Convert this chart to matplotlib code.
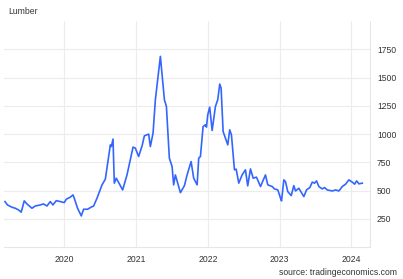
import matplotlib
matplotlib.use("Agg")
from matplotlib import pyplot as plt

# weekly lumber price (decimal year, USD)
years = [2019.173, 2019.209, 2019.271, 2019.317, 2019.363, 2019.400, 2019.442,
         2019.480, 2019.550, 2019.596, 2019.665, 2019.711, 2019.759, 2019.805,
         2019.842, 2019.888, 2019.944, 2020.000, 2020.028, 2020.084, 2020.121,
         2020.139, 2020.185, 2020.237, 2020.269, 2020.325, 2020.372, 2020.409,
         2020.456, 2020.526, 2020.572, 2020.642,
         2020.656, 2020.679, 2020.697, 2020.725, 2020.813, 2020.874, 2020.958,
         2020.990, 2021.036, 2021.084, 2021.116, 2021.176, 2021.199, 2021.237,
         2021.269, 2021.339, 2021.395, 2021.423, 2021.464, 2021.502, 2021.524,
         2021.548, 2021.618, 2021.674, 2021.711, 2021.767, 2021.803, 2021.851,
         2021.873, 2021.897, 2021.934, 2021.967, 2021.981, 2021.999, 2022.026,
         2022.060, 2022.106, 2022.138, 2022.166, 2022.185, 2022.213, 2022.245,
         2022.278, 2022.305, 2022.329, 2022.371, 2022.395, 2022.431, 2022.478,
         2022.524, 2022.556, 2022.594, 2022.632, 2022.678, 2022.734, 2022.803,
         2022.835, 2022.897, 2022.929, 2022.975, 2023.013, 2023.027, 2023.059,
         2023.082, 2023.114, 2023.162, 2023.198, 2023.222, 2023.268, 2023.301,
         2023.338, 2023.375, 2023.421, 2023.455, 2023.487, 2023.515, 2023.547,
         2023.594, 2023.626, 2023.664, 2023.734, 2023.780, 2023.826, 2023.873,
         2023.919, 2023.965, 2024.013, 2024.045, 2024.073, 2024.105, 2024.152]
prices = [402, 372, 352, 343, 328, 308, 408,
          381, 343, 363, 372, 381, 363, 402,
          372, 410, 402, 393, 423, 441, 461,
          432, 343, 275, 334, 334, 352, 363,
          432, 550, 600, 904,
          889, 955, 565, 609, 505, 638, 884,
          875, 801, 895, 984, 999, 889, 1008,
          1303, 1687, 1303, 1244, 786, 712, 550,
          638, 481, 543, 638, 756, 609, 550,
          786, 801, 1066, 1082, 1061, 1170, 1238,
          1031, 1244, 1303, 1442, 1407, 1022, 964,
          904, 1037, 993, 683, 689, 565, 638,
          683, 541, 691, 609, 618, 535, 638,
          550, 535, 514, 505, 432, 408, 594,
          579, 490, 455, 543, 496, 520, 485,
          446, 505, 526, 574, 565, 585, 535,
          514, 526, 505, 496, 505, 496, 535,
          556, 594, 574, 556, 585, 559, 565]

year_ticks = [2020, 2021, 2022, 2023, 2024]
price_ticks = [250, 500, 750, 1000, 1250, 1500, 1750]

plt.rcParams['font.family'] = ['Liberation Sans', 'DejaVu Sans']

fig = plt.figure(figsize=(4.03, 2.79), dpi=100)
ax = fig.add_axes([0.0099, 0.1147, 0.9083, 0.8100])
ax.plot(years, prices, color='#3366ff', linewidth=1.2)

ax.set_xlim(2019.16, 2024.26)
ax.set_ylim(0, 2000)
ax.set_xticks(year_ticks)
ax.set_xticklabels([str(y) for y in year_ticks])
ax.set_yticks(price_ticks)
ax.yaxis.tick_right()
ax.tick_params(axis='both', length=0, labelsize=6.2, colors='#333333')
ax.tick_params(axis='y', pad=5)
ax.tick_params(axis='x', pad=6)
ax.grid(True, color='#ececec', linewidth=0.8)
for side in ['top', 'left']:
    ax.spines[side].set_visible(False)
for side in ['right', 'bottom']:
    ax.spines[side].set_color('#e6e6e6')
    ax.spines[side].set_linewidth(0.8)

fig.text(0.02, 0.96, "Lumber", fontsize=6.2, color='#333333', va='center')
fig.text(0.985, 0.025, "source: tradingeconomics.com", fontsize=6.2,
         color='#333333', ha='right', va='center')

fig.savefig("out.png", dpi=100)
plt.close(fig)
